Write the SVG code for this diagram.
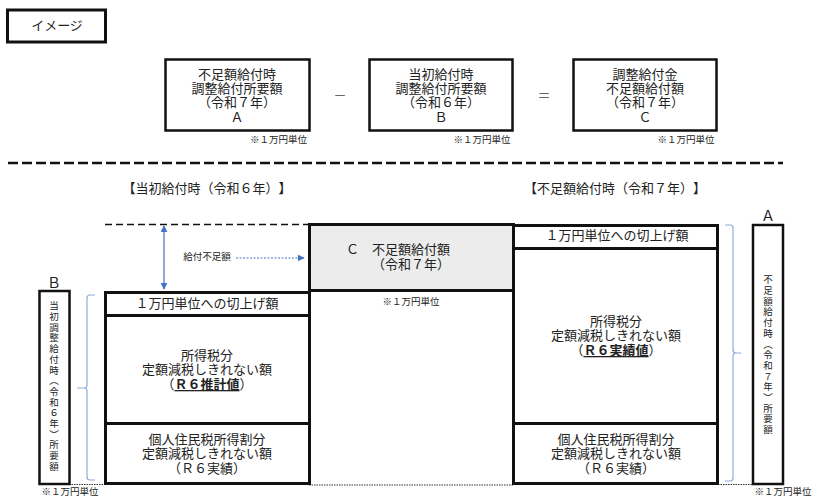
<svg xmlns="http://www.w3.org/2000/svg" width="817" height="500" viewBox="0 0 817 500">
<style>
text{font-family:"Noto Sans CJK JP","Liberation Sans",sans-serif;fill:#222;text-anchor:middle;text-spacing-trim:space-all}
.t{font-size:13px}
.s{font-size:9.500px}
.l{font-size:14px}
.v{font-size:9.500px;writing-mode:vertical-rl;text-anchor:start;letter-spacing:1.200px}
.box{fill:#fff;stroke:#111;stroke-width:3}
.tb{fill:#fff;stroke:#111;stroke-width:2.500}
.br{fill:none;stroke:#8faadc;stroke-width:1.200}
.b{font-weight:700;text-decoration:underline}
.op{font-size:13px;fill:#666}
</style>
<defs>
<marker id="ah" viewBox="0 0 10 10" refX="9" refY="5" markerWidth="7" markerHeight="7" markerUnits="userSpaceOnUse" orient="auto-start-reverse"><path d="M0 0L10 5L0 10z" fill="#4472c4"/></marker>
</defs>
<g id="connectors">
<path d="M8 163H783" fill="none" stroke="#111" stroke-width="2.500" stroke-dasharray="10 4"/>
<path d="M105 224.500H309" fill="none" stroke="#111" stroke-width="1.500" stroke-dasharray="7 4"/>
<path d="M69 484.500H105M309 485H513M718 484.500H753" fill="none" stroke="#333" stroke-width="1" stroke-dasharray="1.500 1"/>
<path d="M164 226V289" fill="none" stroke="#4472c4" stroke-width="1.200" marker-start="url(#ah)" marker-end="url(#ah)"/>
<path d="M236 258H304" fill="none" stroke="#4472c4" stroke-width="1" stroke-dasharray="2 1.500" marker-end="url(#ah)"/>
<path class="br" d="M95 295H90Q87 295 87 298V385Q87 388 84 388H77M84 388Q87 388 87 391V477Q87 480 90 480H95"/>
<path class="br" d="M725 225H730Q733 225 733 228V350Q733 353 736 353H741M736 353Q733 353 733 356V478Q733 481 730 481H725"/>
</g>
<g id="image-label"><rect x="7.500" y="10" width="98" height="32" fill="#fff" stroke="#111" stroke-width="3"/><text class="t" x="57" y="30">イメージ</text></g>
<g id="top-a"><rect class="tb" x="165.500" y="59.500" width="144" height="71"/>
<text class="t"><tspan x="237" y="79">不足額給付時</tspan><tspan x="237" y="93">調整給付所要額</tspan><tspan x="237" y="107">（令和７年）</tspan><tspan x="237" y="122">Ａ</tspan></text></g>
<text class="s" x="278.500" y="143">※１万円単位</text>
<text class="op" x="340" y="100">－</text>
<g id="top-b"><rect class="tb" x="369.500" y="59.500" width="143" height="71"/>
<text class="t"><tspan x="441" y="79">当初給付時</tspan><tspan x="441" y="93">調整給付所要額</tspan><tspan x="441" y="107">（令和６年）</tspan><tspan x="441" y="122">Ｂ</tspan></text></g>
<text class="s" x="482" y="143">※１万円単位</text>
<text class="op" x="544" y="100">＝</text>
<g id="top-c"><rect class="tb" x="573.500" y="59.500" width="143" height="71"/>
<text class="t"><tspan x="645" y="79">調整給付金</tspan><tspan x="645" y="93">不足額給付額</tspan><tspan x="645" y="107">（令和７年）</tspan><tspan x="645" y="122">Ｃ</tspan></text></g>
<text class="s" x="686" y="143">※１万円単位</text>
<text class="t" x="207" y="193">【当初給付時（令和６年）】</text>
<text class="t" x="615" y="193">【不足額給付時（令和７年）】</text>
<g id="left-round"><rect class="box" x="105.500" y="292.500" width="204" height="23"/><text class="t" x="207" y="308">１万円単位への切上げ額</text></g>
<g id="left-income"><rect class="box" x="105.500" y="315.500" width="204" height="108"/>
<text class="t"><tspan x="207" y="360">所得税分</tspan><tspan x="207" y="374">定額減税しきれない額</tspan><tspan x="207" y="389">（<tspan class="b">Ｒ６推計値</tspan>）</tspan></text></g>
<g id="left-resident"><rect class="box" x="105.500" y="423.500" width="204" height="60"/>
<text class="t"><tspan x="207" y="444">個人住民税所得割分</tspan><tspan x="207" y="458">定額減税しきれない額</tspan><tspan x="207" y="473">（Ｒ６実績）</tspan></text></g>
<g id="center-c"><rect x="309.500" y="224.500" width="204" height="66" fill="#ececec" stroke="#111" stroke-width="3"/>
<text class="t"><tspan x="398" y="254">Ｃ　不足額給付額</tspan><tspan x="411" y="269">（令和７年）</tspan></text></g>
<text class="s" x="411" y="305">※１万円単位</text>
<g id="right-round"><rect class="box" x="513.500" y="225.500" width="204" height="23"/><text class="t" x="617" y="240">１万円単位への切上げ額</text></g>
<g id="right-income"><rect class="box" x="513.500" y="248.500" width="204" height="175"/>
<text class="t"><tspan x="616" y="326">所得税分</tspan><tspan x="616" y="340">定額減税しきれない額</tspan><tspan x="616" y="355">（<tspan class="b">Ｒ６実績値</tspan>）</tspan></text></g>
<g id="right-resident"><rect class="box" x="513.500" y="423.500" width="204" height="60"/>
<text class="t"><tspan x="616" y="444">個人住民税所得割分</tspan><tspan x="616" y="458">定額減税しきれない額</tspan><tspan x="616" y="473">（Ｒ６実績）</tspan></text></g>
<g id="side-b"><rect x="39.500" y="291" width="30" height="193" fill="#fff" stroke="#111" stroke-width="2.500"/>
<text class="l" x="54" y="288">Ｂ</text><text class="v" x="54" y="301">当初調整給付時（令和６年）所要額</text></g>
<g id="side-a"><rect x="753" y="225" width="30" height="259" fill="#fff" stroke="#111" stroke-width="2.500"/>
<text class="l" x="768" y="221">Ａ</text><text class="v" x="768" y="275">不足額給付時（令和７年）所要額</text></g>
<text class="s" x="70" y="495">※１万円単位</text>
<text class="s" x="783" y="495">※１万円単位</text>
<text x="207" y="260" style="font-size:9.500px">給付不足額</text>
</svg>
